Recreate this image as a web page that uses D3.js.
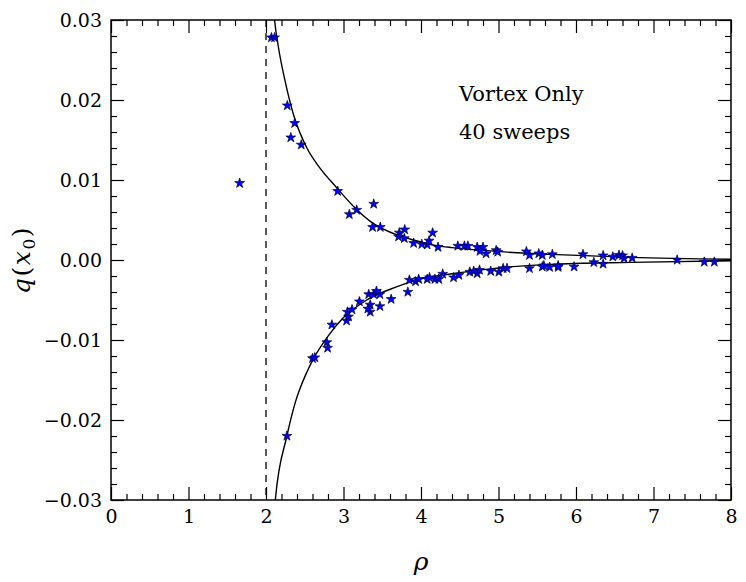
<!DOCTYPE html>
<html>
<head>
<meta charset="utf-8">
<script src="https://cdn.jsdelivr.net/npm/d3@7"></script>
<style>
  body { margin: 0; background: #fff; }
  svg { display: block; }
  svg text { font-family: "DejaVu Serif", serif; }
</style>
</head>
<body>
<div id="vis"></div>
<script>
// Data ----------------------------------------------------------------------------------------------------------------
const starRho = [
  1.66, 2.07, 2.11, 2.275, 2.37, 2.32, 2.455, 2.925, 3.075, 3.17, 3.39, 3.375, 3.475, 3.72, 3.79, 3.71, 3.785,
  3.905, 4.01, 4.08, 4.105, 4.15, 4.22, 4.475, 4.56, 4.605, 4.725, 4.80, 4.76, 4.84, 4.97, 4.99, 5.36, 5.40, 5.52,
  5.565, 5.695, 6.09, 6.35, 6.475, 6.555, 6.60, 6.62, 6.725, 7.305, 7.655, 7.785,
  2.27, 2.60, 2.63, 2.785, 2.795, 2.85, 3.04, 3.065, 3.05, 3.11, 3.205, 3.325, 3.345, 3.345, 3.315, 3.39, 3.425,
  3.47, 3.47, 3.615, 3.83, 3.85, 3.93, 3.97, 4.08, 4.11, 4.18, 4.23, 4.28, 4.42, 4.49, 4.63, 4.68, 4.725, 4.755,
  4.90, 5.005, 5.06, 5.11, 5.40, 5.565, 5.585, 5.66, 5.77, 5.77, 5.975, 6.23, 6.35
];
const starQ = [
  0.0096, 0.0278, 0.0278, 0.0193, 0.0171, 0.0153, 0.0144, 0.0086, 0.0057, 0.00625, 0.0070, 0.0041, 0.0041, 0.0034,
  0.0038, 0.0029, 0.0027, 0.0021, 0.00196, 0.0019, 0.0024, 0.0034, 0.0016, 0.00175, 0.00175, 0.00175, 0.0016,
  0.0016, 0.0011, 0.0008, 0.0012, 0.0010, 0.00105, 0.0006, 0.0008, 0.0006, 0.0007, 0.0007, 0.00055, 0.0004, 0.0006,
  0.00055, 0.0002, 0.00025, 0.0, -0.00025, -0.00025,
  -0.0220, -0.0123, -0.0122, -0.0103, -0.0110, -0.0081, -0.0076, -0.0071, -0.0065, -0.0062, -0.0052, -0.0043,
  -0.0056, -0.0065, -0.0061, -0.0043, -0.0039, -0.0043, -0.0058, -0.0049, -0.0040, -0.0025, -0.0027, -0.0024,
  -0.0024, -0.0022, -0.0024, -0.0024, -0.00175, -0.0022, -0.0019, -0.0015, -0.0014, -0.0017, -0.00125, -0.0014,
  -0.0015, -0.00105, -0.00105, -0.00105, -0.00085, -0.0007, -0.0009, -0.0007, -0.0009, -0.00085, -0.0003, -0.0005
];

// theory curves (upper and lower branch)
const upperRho = [2.09, 2.11, 2.162, 2.248, 2.357, 2.528, 2.68, 2.915, 3.15, 3.35, 3.7, 3.9, 4.2, 4.4, 4.81, 5.24, 5.67, 6.71, 8.0];
const upperQ = [0.032, 0.030, 0.0265, 0.0223, 0.0181, 0.0140, 0.0117, 0.0090, 0.0065, 0.0048, 0.0031, 0.0025, 0.0018, 0.00155, 0.0012, 0.0009, 0.0007, 0.00033, 0.0001];
const lowerRho = [2.10, 2.12, 2.27, 2.378, 2.528, 2.615, 2.786, 3.0, 3.3, 3.7, 3.9, 4.38, 4.81, 5.24, 5.67, 6.71, 8.0];
const lowerQ = [-0.0325, -0.030, -0.022, -0.0178, -0.0140, -0.0123, -0.0097, -0.0072, -0.0050, -0.0033, -0.0026, -0.00175, -0.0012, -0.0008, -0.00055, -0.0003, -0.0001];

const xTicks = [0, 1, 2, 3, 4, 5, 6, 7, 8];
const yTicks = [-0.03, -0.02, -0.01, 0.00, 0.01, 0.02, 0.03];
const criticalRho = 2;
const noteLines = ["Vortex Only", "40 sweeps"];

// Canvas ----------------------------------------------------------------------------------------------------------------
const canvasWidth = 746;
const canvasHeight = 582;
const leftPadding = 111;
const rightPadding = 15;
const topPadding = 20;
const bottomPadding = 82;

const tickFontSize = 19;
const majorTick = 13;
const minorTick = 6;

const svg = d3.select("#vis")
  .append("svg")
  .attr("width", canvasWidth)
  .attr("height", canvasHeight);

svg.append("rect")
  .attr("width", canvasWidth)
  .attr("height", canvasHeight)
  .attr("fill", "#fff");

const xScale = d3.scaleLinear()
  .domain([0, 8])
  .range([leftPadding, canvasWidth - rightPadding]);
const yScale = d3.scaleLinear()
  .domain([-0.03, 0.03])
  .range([canvasHeight - bottomPadding, topPadding]);

const x0 = xScale.range()[0], x1 = xScale.range()[1];
const y0 = yScale.range()[1], y1 = yScale.range()[0];

svg.append("clipPath")
  .attr("id", "plot-clip")
  .append("rect")
  .attr("x", x0)
  .attr("y", y0)
  .attr("width", x1 - x0)
  .attr("height", y1 - y0);

// Axes (ticks point inward on all four sides) --------------------------------------------------------------------------
const xMinor = d3.range(0, 8.0001, 0.2).filter(v => Math.abs(v - Math.round(v)) > 1e-6);
const yMinor = d3.range(-0.03, 0.03001, 0.002).filter(v => Math.abs(v * 100 - Math.round(v * 100)) > 1e-6);

function styleAxis(g) {
  g.attr("font-family", null).attr("font-size", null);
  g.select(".domain").remove();
  g.selectAll("line").attr("stroke", "#000").attr("stroke-width", 1.2);
  g.selectAll("text")
    .style("font-size", tickFontSize + "px")
    .attr("fill", "#000");
}

svg.append("g")
  .attr("transform", "translate(0," + y1 + ")")
  .call(d3.axisBottom(xScale).tickValues(xTicks).tickFormat(d3.format("d")).tickSize(-majorTick).tickPadding(10))
  .call(styleAxis);
svg.append("g")
  .attr("transform", "translate(0," + y1 + ")")
  .call(d3.axisBottom(xScale).tickValues(xMinor).tickFormat("").tickSize(-minorTick))
  .call(styleAxis);
svg.append("g")
  .attr("transform", "translate(0," + y0 + ")")
  .call(d3.axisTop(xScale).tickValues(xTicks).tickFormat("").tickSize(-majorTick))
  .call(styleAxis);
svg.append("g")
  .attr("transform", "translate(0," + y0 + ")")
  .call(d3.axisTop(xScale).tickValues(xMinor).tickFormat("").tickSize(-minorTick))
  .call(styleAxis);

svg.append("g")
  .attr("transform", "translate(" + x0 + ",0)")
  .call(d3.axisLeft(yScale).tickValues(yTicks).tickFormat(d3.format(".2f")).tickSize(-majorTick).tickPadding(9))
  .call(styleAxis);
svg.append("g")
  .attr("transform", "translate(" + x0 + ",0)")
  .call(d3.axisLeft(yScale).tickValues(yMinor).tickFormat("").tickSize(-minorTick))
  .call(styleAxis);
svg.append("g")
  .attr("transform", "translate(" + x1 + ",0)")
  .call(d3.axisRight(yScale).tickValues(yTicks).tickFormat("").tickSize(-majorTick))
  .call(styleAxis);
svg.append("g")
  .attr("transform", "translate(" + x1 + ",0)")
  .call(d3.axisRight(yScale).tickValues(yMinor).tickFormat("").tickSize(-minorTick))
  .call(styleAxis);

// Plot --------------------------------------------------------------------------------------------------------------------
const plot = svg.append("g").attr("clip-path", "url(#plot-clip)");

plot.append("line")
  .attr("x1", xScale(criticalRho))
  .attr("x2", xScale(criticalRho))
  .attr("y1", y0)
  .attr("y2", y1)
  .attr("stroke", "#000")
  .attr("stroke-width", 1.3)
  .attr("stroke-dasharray", "7,6");

const line = d3.line()
  .x(d => xScale(d[0]))
  .y(d => yScale(d[1]))
  .curve(d3.curveMonotoneX);

[[upperRho, upperQ], [lowerRho, lowerQ]].forEach(function(branch) {
  plot.append("path")
    .datum(d3.zip(branch[0], branch[1]))
    .attr("d", line)
    .attr("fill", "none")
    .attr("stroke", "#000")
    .attr("stroke-width", 1.4);
});

const star = d3.symbol().type(d3.symbolStar).size(30);
plot.selectAll(".star")
  .data(d3.zip(starRho, starQ))
  .join("path")
  .attr("class", "star")
  .attr("transform", d => "translate(" + xScale(d[0]) + "," + yScale(d[1]) + ")")
  .attr("d", star)
  .attr("fill", "#0000ff")
  .attr("stroke", "#000033")
  .attr("stroke-width", 0.7);

// Frame -------------------------------------------------------------------------------------------------------------------
svg.append("rect")
  .attr("x", x0)
  .attr("y", y0)
  .attr("width", x1 - x0)
  .attr("height", y1 - y0)
  .attr("fill", "none")
  .attr("stroke", "#000")
  .attr("stroke-width", 1.5);

// Labels ------------------------------------------------------------------------------------------------------------------
svg.append("text")
  .attr("x", (x0 + x1) / 2)
  .attr("y", 570)
  .attr("text-anchor", "middle")
  .style("font-style", "italic")
  .style("font-size", "25px")
  .text("ρ");

const yLabel = svg.append("text")
  .attr("transform", "translate(30," + ((y0 + y1) / 2) + ") rotate(-90)")
  .attr("text-anchor", "middle")
  .style("font-size", "25px")
  .style("letter-spacing", "1.5px");
yLabel.append("tspan").style("font-style", "italic").text("q");
yLabel.append("tspan").text("(");
yLabel.append("tspan").style("font-style", "italic").text("x");
yLabel.append("tspan").style("font-size", "17px").attr("dy", 5).text("0");
yLabel.append("tspan").attr("dy", -5).text(")");

svg.selectAll(".note")
  .data(noteLines)
  .join("text")
  .attr("class", "note")
  .attr("x", 459)
  .attr("y", (d, i) => 101 + i * 38)
  .style("font-size", "21px")
  .text(d => d);
</script>
</body>
</html>
